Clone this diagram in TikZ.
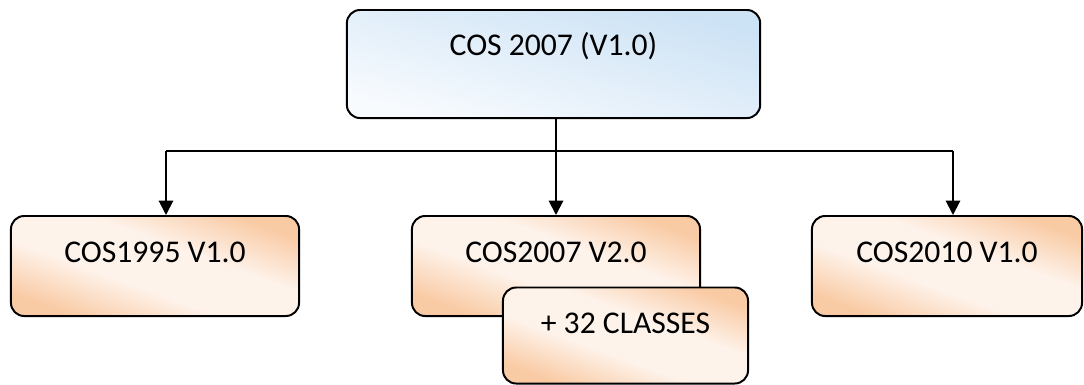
\documentclass[tikz,border=0pt]{standalone}
\usepackage{fontspec}
\setmainfont{Carlito}
\usetikzlibrary{arrows.meta}
\usetikzlibrary{calc}

\definecolor{peach}{HTML}{F9CBA5}
\definecolor{cream}{HTML}{FEF3EB}
\definecolor{skyblue}{HTML}{CCE2F5}
\definecolor{paleblue}{HTML}{F8FBFE}
\pgfdeclareverticalshading{peachband}{100bp}{color(0bp)=(peach); color(25bp)=(peach);
  color(42bp)=(cream); color(58bp)=(cream); color(75bp)=(peach); color(100bp)=(peach)}
\pgfdeclareverticalshading{bluefade}{100bp}{color(0bp)=(paleblue); color(25bp)=(paleblue);
  color(75bp)=(skyblue); color(100bp)=(skyblue)}

\begin{document}
\begin{tikzpicture}[x=0.025cm,y=-0.025cm,>={Triangle[length=0.36cm,width=0.36cm]},
        box/.style={draw=black,line width=1.4pt,rounded corners=0.33cm,inner sep=0,
          font=\fontsize{22.5}{27}\selectfont,text height=1.15cm,text depth=1.35cm},
        orangebox/.style={box,shading=peachband,shading angle=-20},
        bluebox/.style={box,shading=bluefade,shading angle=-15},
        link/.style={line width=1.4pt}]
        \useasboundingbox (0,0) rectangle (1084,384);
        \node[bluebox,minimum width=10.33cm,minimum height=2.7cm,text height=1.125cm,text depth=1.575cm]
          (cos07) at (553.5,64) {COS 2007 (V1.0)};
        \node[orangebox,minimum width=7.2cm,minimum height=2.5cm] (cos95) at (155,266) {COS1995 V1.0};
        \node[orangebox,minimum width=7.2cm,minimum height=2.5cm] (cos07b) at (556,266) {COS2007 V2.0};
        \node[orangebox,minimum width=6.125cm,minimum height=2.375cm,text depth=1.25cm]
          (classes) at (625.5,335.5) {+ 32 CLASSES};
        \node[orangebox,minimum width=6.75cm,minimum height=2.5cm] (cos10) at (947,266) {COS2010 V1.0};
        \coordinate (split) at (556,151);
        \coordinate (west) at (166,151);
        \coordinate (east) at (953,151);
        \draw[link] (cos07.south -| split) -- (split);
        \draw[link] (west) -- (east);
        \draw[link,->] (west) -- (cos95.north -| west);
        \draw[link,->] (split) -- (cos07b.north -| split);
        \draw[link,->] (east) -- (cos10.north -| east);
\end{tikzpicture}
\end{document}
